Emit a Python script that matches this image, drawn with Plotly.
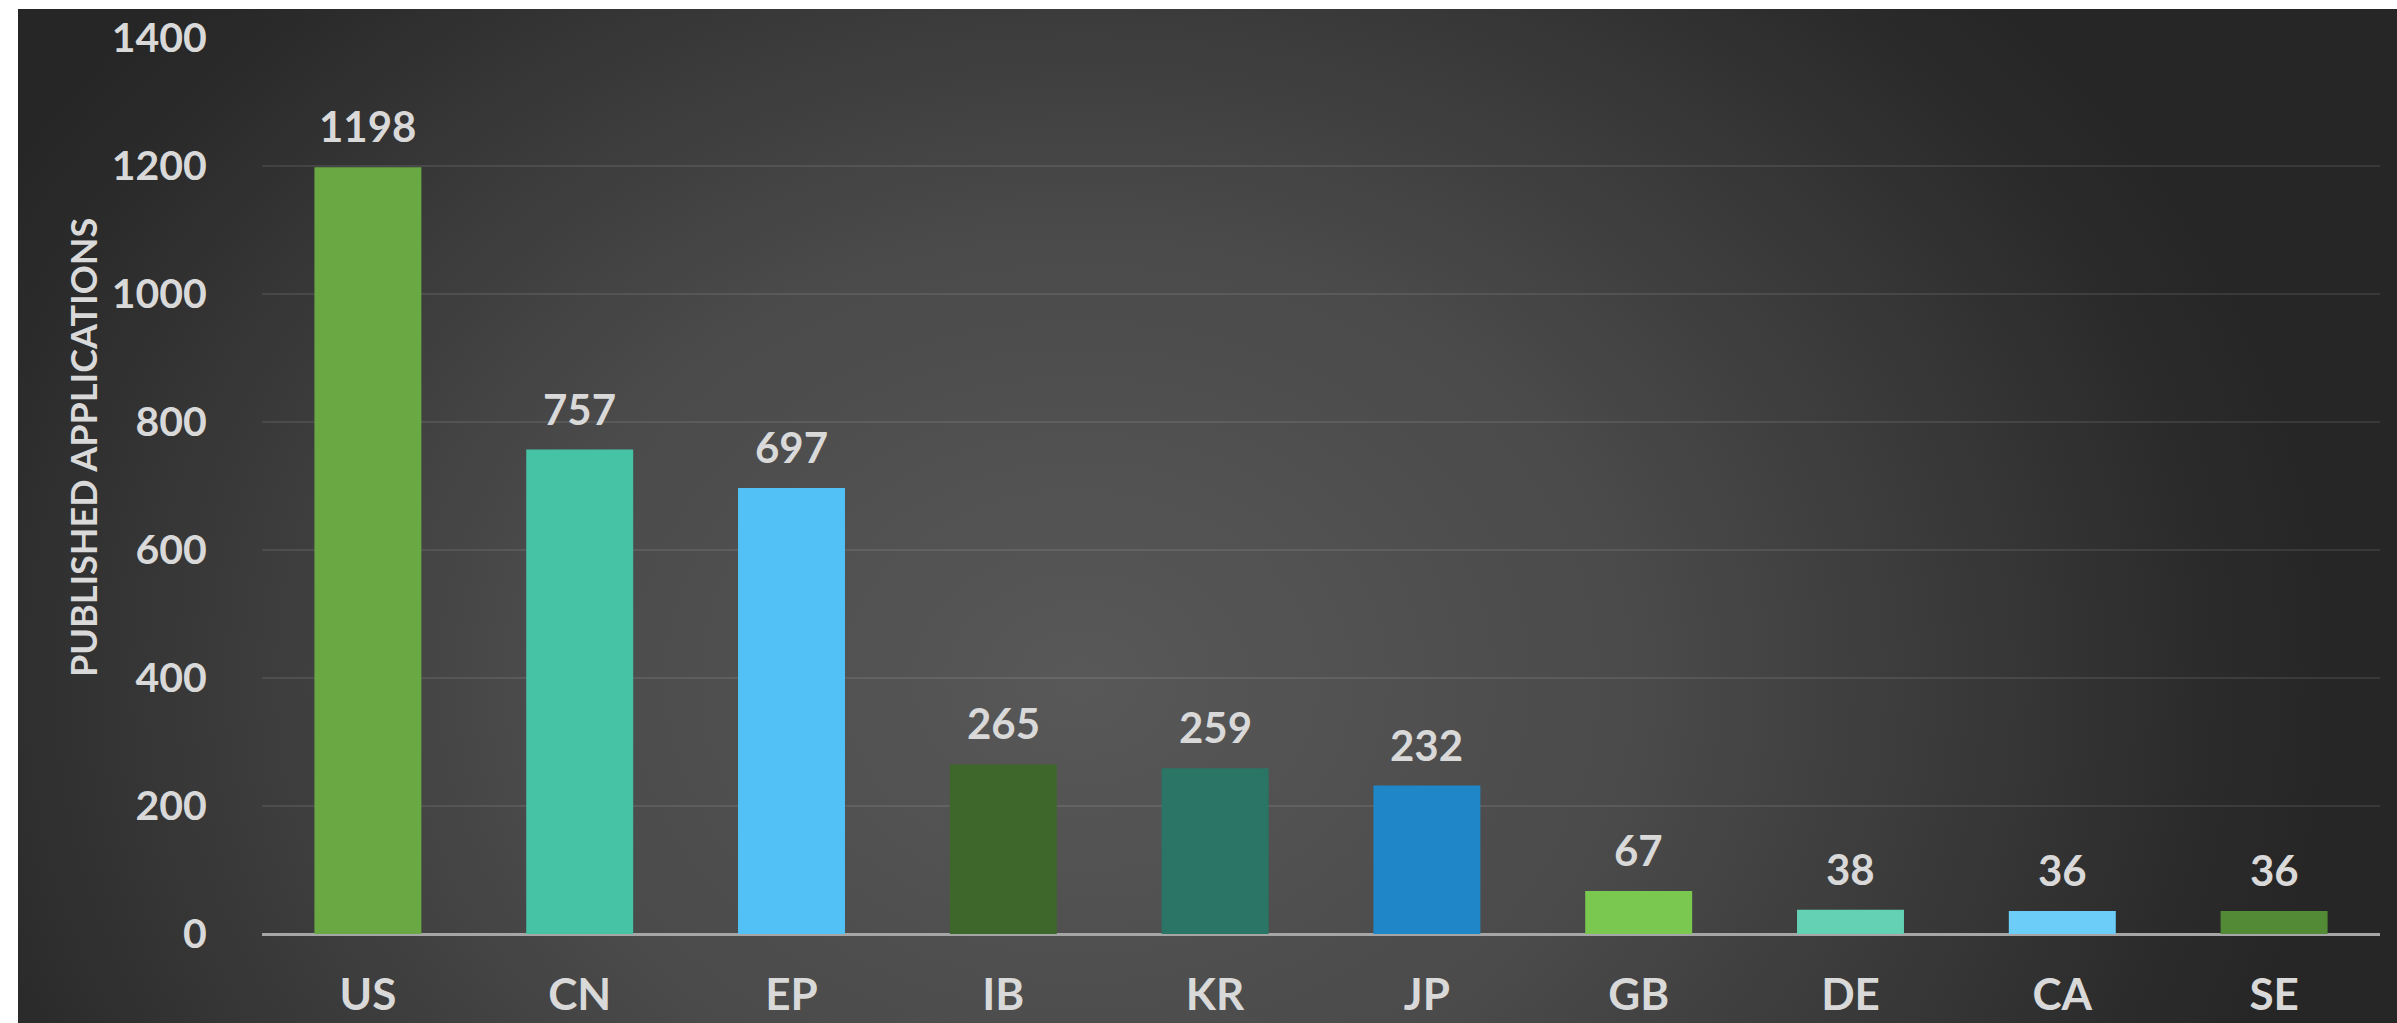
import base64
import plotly.graph_objects as go

# ---- data ----
categories = ["US", "CN", "EP", "IB", "KR", "JP", "GB", "DE", "CA", "SE"]
values = [1198, 757, 697, 265, 259, 232, 67, 38, 36, 36]
bar_colors = ["#69a842", "#46c2a4", "#52c1f5", "#3e672b", "#2a7565",
              "#1f86c8", "#7ac84f", "#64d0b4", "#6ccef8", "#528a36"]
y_ticks = [0, 200, 400, 600, 800, 1000, 1200, 1400]
y_title = "PUBLISHED APPLICATIONS"

W, H = 2397, 1023
L, T = 262, 38
plot_right, plot_bottom = 2380, 934
R, B = W - plot_right, H - plot_bottom
pw, ph = plot_right - L, plot_bottom - T

TXT = "#d9d9d9"
FONT = "Lato"

def px_x(px):
    return (px - L) / pw

def px_y(py):
    return (plot_bottom - py) / ph

# background panel with radial gradient (page coords)
bx0, by0 = 18, 9
bw, bh = W + 30 - bx0, H + 30 - by0
svg = f'''<svg xmlns="http://www.w3.org/2000/svg" width="{bw}" height="{bh}" viewBox="0 0 {bw} {bh}">
<defs><radialGradient id="g" gradientUnits="userSpaceOnUse" cx="0" cy="0" r="1"
 gradientTransform="translate({1080-bx0},{680-by0}) scale(1250,1000)">
<stop offset="0" stop-color="#585858"/>
<stop offset="0.45" stop-color="#4a4a4a"/>
<stop offset="0.72" stop-color="#383838"/>
<stop offset="0.9" stop-color="#2b2b2b"/>
<stop offset="1" stop-color="#262626"/>
</radialGradient></defs>
<rect x="0" y="0" width="{bw}" height="{bh}" fill="url(#g)"/>
</svg>'''
src = "data:image/svg+xml;base64," + base64.b64encode(svg.encode()).decode()

fig = go.Figure()
fig.add_trace(go.Bar(
    x=categories, y=values,
    marker=dict(color=bar_colors, line=dict(width=0)),
    width=0.505,
    hoverinfo="x+y",
))

for c, v in zip(categories, values):
    fig.add_annotation(
        x=c, y=v, text=str(v), showarrow=False,
        yanchor="bottom", yshift=14,
        font=dict(family=FONT, size=42, color=TXT, weight="bold"),
    )

fig.add_annotation(
    xref="paper", yref="paper", x=px_x(83), y=px_y(448),
    text=y_title, textangle=-90, showarrow=False,
    xanchor="center", yanchor="middle",
    font=dict(family=FONT, size=36, color=TXT, weight="bold"),
)

fig.add_layout_image(dict(
    source=src, xref="paper", yref="paper",
    x=px_x(bx0), y=px_y(by0), sizex=bw / pw, sizey=bh / ph,
    xanchor="left", yanchor="top", sizing="stretch", layer="below",
))

fig.update_layout(
    template="none",
    width=W, height=H,
    margin=dict(l=L, r=R, t=T, b=B, pad=0, autoexpand=False),
    paper_bgcolor="white",
    plot_bgcolor="rgba(0,0,0,0)",
    showlegend=False,
    bargap=0.495,
    font=dict(family=FONT, color=TXT, weight="bold"),
    xaxis=dict(
        type="category", showgrid=False, zeroline=False,
        showline=False, automargin=False,
        ticks="outside", ticklen=22, tickcolor="rgba(0,0,0,0)",
        tickfont=dict(family=FONT, size=44, color=TXT, weight="bold"),
        fixedrange=True,
    ),
    yaxis=dict(
        range=[0, 1400], tickvals=y_ticks, automargin=False,
        showgrid=True, gridcolor="rgba(255,255,255,0.09)", gridwidth=2,
        zeroline=True, zerolinecolor="#a6a6a6", zerolinewidth=3,
        showline=False,
        ticks="outside", ticklen=46, tickcolor="rgba(0,0,0,0)",
        tickfont=dict(family=FONT, size=41, color=TXT, weight="bold"),
        fixedrange=True,
    ),
)

fig.write_html(
    "out.html",
    config={"displayModeBar": False},
    post_script="document.body.style.margin='0';document.body.style.overflow='hidden';",
)
